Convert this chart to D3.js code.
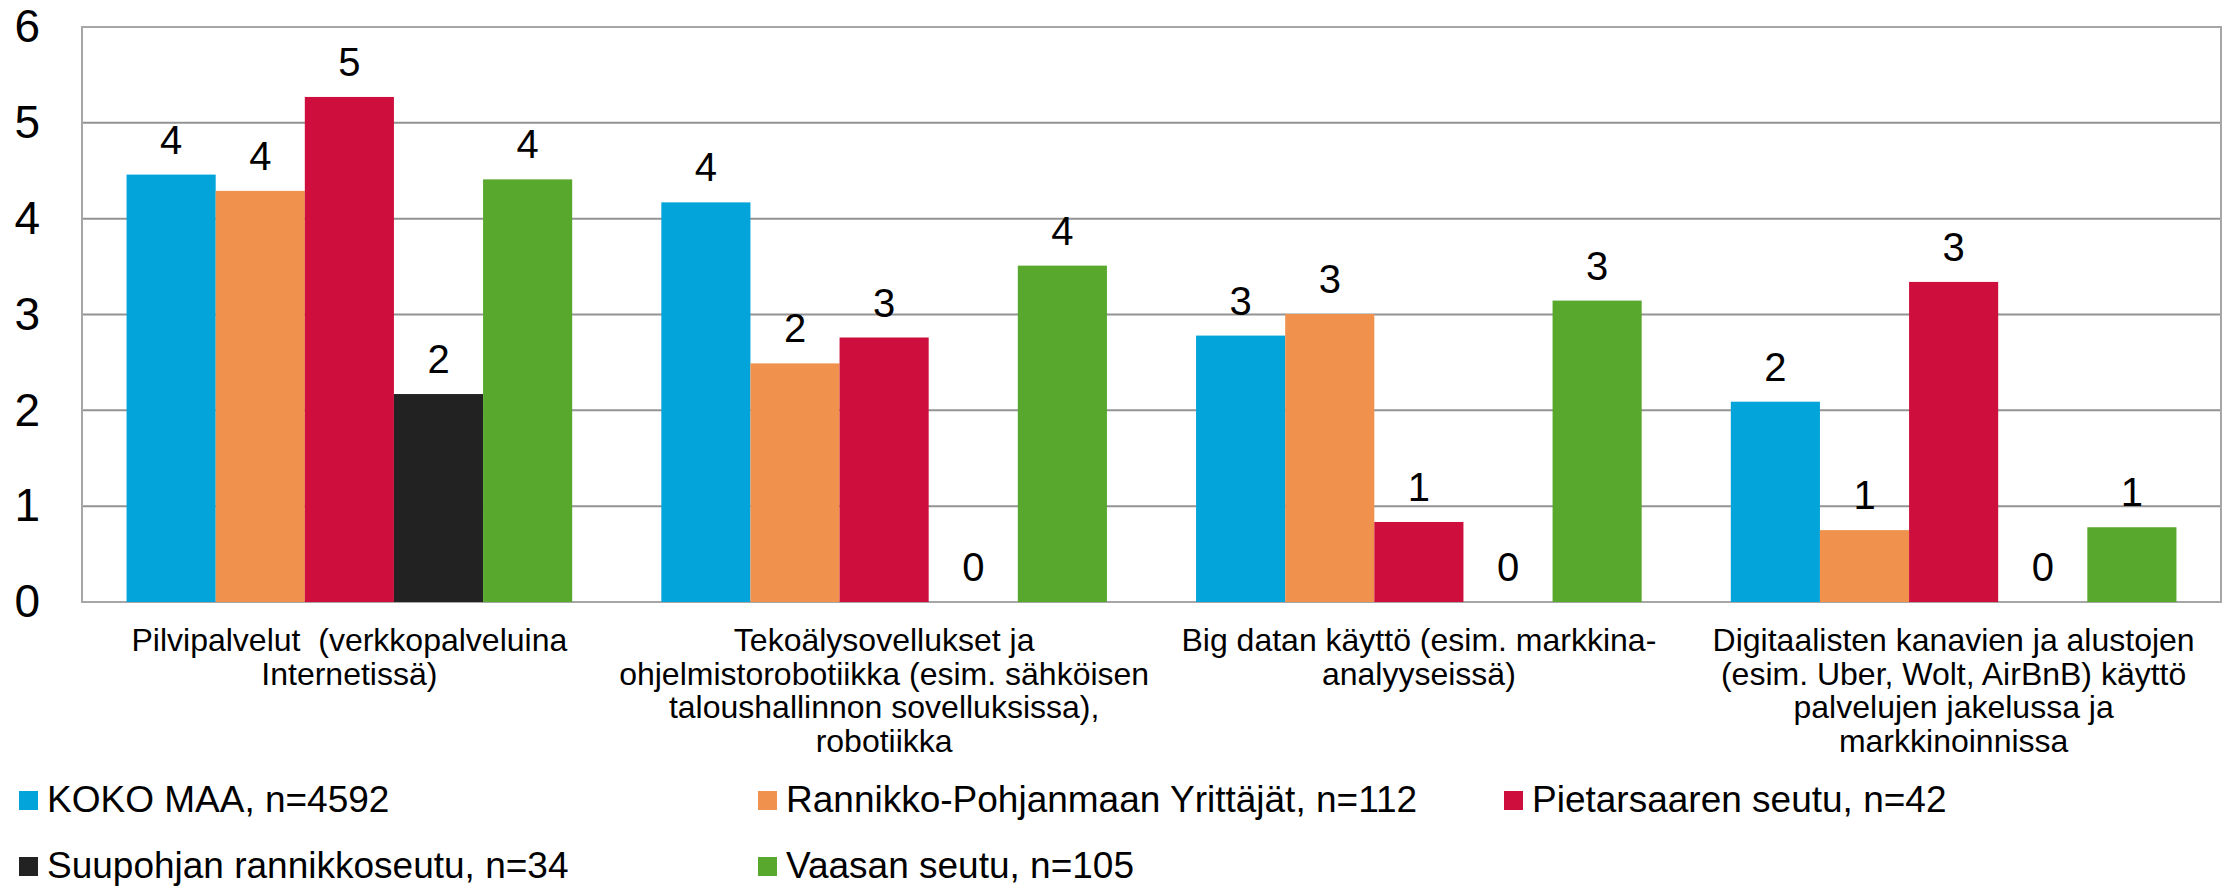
<!DOCTYPE html>
<html>
<head>
<meta charset="utf-8">
<script src="https://cdn.jsdelivr.net/npm/d3@7"></script>
<style>
  html, body { margin: 0; padding: 0; background: #fff; }
  svg { display: block; font-family: "Liberation Sans", Arial, sans-serif; }
  .cat tspan { white-space: pre; }
</style>
</head>
<body>
<svg id="chart" width="2231" height="888"></svg>
<script>
// ---- data ----
const categories = [
  ["Pilvipalvelut  (verkkopalveluina", "Internetissä)"],
  ["Tekoälysovellukset ja", "ohjelmistorobotiikka (esim. sähköisen", "taloushallinnon sovelluksissa),", "robotiikka"],
  ["Big datan käyttö (esim. markkina-", "analyyseissä)"],
  ["Digitaalisten kanavien ja alustojen", "(esim. Uber, Wolt, AirBnB) käyttö", "palvelujen jakelussa ja", "markkinoinnissa"]
];
const seriesNames = [
  "KOKO MAA, n=4592",
  "Rannikko-Pohjanmaan Yrittäjät, n=112",
  "Pietarsaaren seutu, n=42",
  "Suupohjan rannikkoseutu, n=34",
  "Vaasan seutu, n=105"
];
const kokoMaa      = [4.46, 4.17, 2.78, 2.09];
const rannikko     = [4.29, 2.49, 3.005, 0.75];
const pietarsaari  = [5.27, 2.76, 0.835, 3.34];
const suupohja     = [2.17, 0, 0, 0];
const vaasa        = [4.41, 3.51, 3.145, 0.78];
const seriesValues = [kokoMaa, rannikko, pietarsaari, suupohja, vaasa];
const colors = ["#02A4D9", "#F0914D", "#CE0F3D", "#222222", "#58A82D"];
const yTicks = [0, 1, 2, 3, 4, 5, 6];

// ---- layout ----
const svg = d3.select("#chart");
const plot = { left: 82, top: 27, right: 2221, bottom: 602 };

const x0 = d3.scaleBand().domain(d3.range(categories.length))
  .range([plot.left, plot.right]).paddingInner(0).paddingOuter(0);
const x1 = d3.scaleBand().domain(d3.range(seriesNames.length))
  .range([0, x0.bandwidth()]).paddingInner(0).paddingOuter(0.5);
const y = d3.scaleLinear().domain([0, 6]).range([plot.bottom, plot.top]);

// gridlines
svg.append("g").selectAll("line").data(yTicks).join("line")
  .attr("x1", plot.left).attr("x2", plot.right)
  .attr("y1", d => y(d)).attr("y2", d => y(d))
  .attr("stroke", "#939393").attr("stroke-width", 2);

// plot border
svg.append("rect")
  .attr("x", plot.left).attr("y", plot.top)
  .attr("width", plot.right - plot.left).attr("height", plot.bottom - plot.top)
  .attr("fill", "none").attr("stroke", "#a6a6a6").attr("stroke-width", 2);

// y axis labels
const yAxis = d3.axisLeft(y).tickValues(yTicks).tickSize(0).tickPadding(0).tickFormat(d3.format("d"));
const yg = svg.append("g").attr("transform", `translate(40,0)`).call(yAxis);
yg.select(".domain").remove();
yg.selectAll("text").attr("font-size", 46).attr("fill", "#000")
  .attr("font-family", "'Liberation Sans', Arial, sans-serif");

// bars
const flat = [];
seriesValues.forEach((vals, s) => vals.forEach((v, c) => flat.push({ s, c, v })));

svg.append("g").selectAll("rect").data(flat.filter(d => d.v > 0)).join("rect")
  .attr("x", d => x0(d.c) + x1(d.s))
  .attr("y", d => y(d.v))
  .attr("width", x1.bandwidth())
  .attr("height", d => y(0) - y(d.v))
  .attr("fill", d => colors[d.s]);

// value labels
svg.append("g").selectAll("text").data(flat).join("text")
  .attr("x", d => x0(d.c) + x1(d.s) + x1.bandwidth() / 2)
  .attr("y", d => y(d.v) - 21)
  .attr("text-anchor", "middle")
  .attr("font-size", 40)
  .attr("fill", "#000")
  .text(d => d3.format(".0f")(d.v));

// category labels
const cg = svg.append("g").attr("class", "cat");
categories.forEach((lines, c) => {
  const cx = x0(c) + x0.bandwidth() / 2;
  const t = cg.append("text")
    .attr("x", cx)
    .attr("y", 651)
    .attr("text-anchor", "middle")
    .attr("font-size", 32)
    .attr("fill", "#000");
  lines.forEach((ln, i) => {
    t.append("tspan").attr("x", cx)
      .attr("dy", i === 0 ? 0 : 33.5).text(ln);
  });
});

// legend
const legendPos = [[19, 812], [758, 812], [1504, 812], [19, 878], [758, 878]];
const lg = svg.append("g");
seriesNames.forEach((name, i) => {
  const [lx, ly] = legendPos[i];
  lg.append("rect").attr("x", lx).attr("y", ly - 21).attr("width", 19).attr("height", 19)
    .attr("fill", colors[i]);
  lg.append("text").attr("x", lx + 28).attr("y", ly)
    .attr("font-size", 37).attr("fill", "#000").text(name);
});
</script>
</body>
</html>
